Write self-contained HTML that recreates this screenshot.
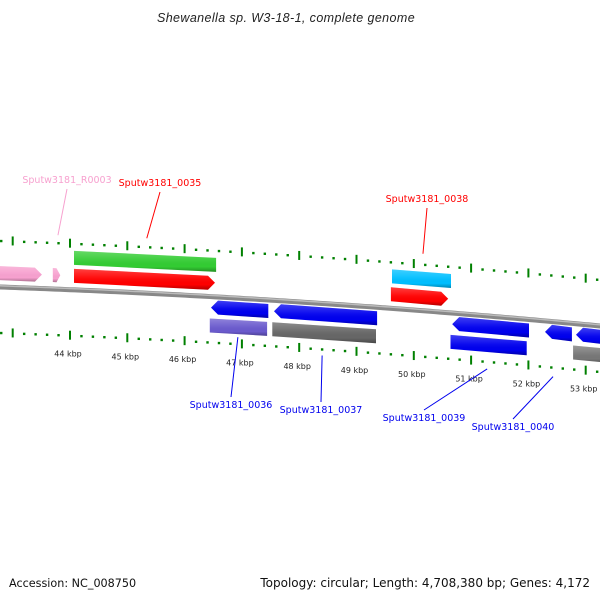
<!DOCTYPE html>
<html><head><meta charset="utf-8"><style>
body{margin:0;background:#fff}
svg{display:block;font-family:"DejaVu Sans","Liberation Sans",sans-serif}
</style></head><body>
<svg id="c" width="600" height="600" viewBox="0 0 600 600">
<defs>
<linearGradient id="sh" x1="0" y1="0" x2="0" y2="1">
<stop offset="0" stop-color="#fff" stop-opacity="0.25"/>
<stop offset="0.45" stop-color="#fff" stop-opacity="0.05"/>
<stop offset="0.75" stop-color="#000" stop-opacity="0"/>
<stop offset="1" stop-color="#000" stop-opacity="0.3"/>
</linearGradient>
</defs>
<text x="286" y="22" text-anchor="middle" font-size="12.5" font-style="italic" fill="#222" style="font-family:'Liberation Sans',sans-serif;letter-spacing:0.4px">Shewanella sp. W3-18-1, complete genome</text>
<text x="9" y="587" font-size="11.2" fill="#111">Accession: NC_008750</text>
<text x="590" y="587" text-anchor="end" font-size="12" fill="#111">Topology: circular; Length: 4,708,380 bp; Genes: 4,172</text>
<g id="g"></g>
</svg>
<script>
const tickKbp=[44,45,46,47,48,49,50,51,52,53];
const geneStarts=[42.6,43.70,44.07,44.07,46.46,46.44,47.56,47.53,49.62,49.60,50.67,50.64,52.29,52.83,52.78];
const geneEnds=[43.51,43.83,46.55,46.53,47.46,47.44,49.36,49.34,50.65,50.60,52.01,51.97,52.76,53.5,53.5];
const geneRows=[-1,-1,-2,-1,1,2,1,2,-2,-1,1,2,1,1,2];
const geneColors=["#f7a1cf","#f7a1cf","#33cc33","#ff0000","#0000ee","#6a5acd","#0000ee","#666666","#00bfff","#ff0000","#0000ee","#0000ee","#0000ee","#0000ee","#777777"];
const geneArrow=[1,1,0,1,-1,0,-1,0,0,1,-1,0,-1,-1,0];
const labelNames=["Sputw3181_R0003","Sputw3181_0035","Sputw3181_0038","Sputw3181_0036","Sputw3181_0037","Sputw3181_0039","Sputw3181_0040"];
const labelColors=["#f7a1cf","#ff0000","#ff0000","#0000ee","#0000ee","#0000ee","#0000ee"];
const labelKbp=[43.79,45.34,50.16,46.93,48.4,51.28,52.43];
const labelAnchorOff=[-54,-55,-57,39,52,53,55];
const labelPos=[[67,183],[160,186],[427,202],[231,408],[321,413],[424,421],[513,430]];

const NS="http://www.w3.org/2000/svg";
const G=document.getElementById('g');
function X(k){return 70+(k-44)*57.3;}
function Y(x){return 287+0.035*x+0.00005*x*x;}
function mk(t,a){const e=document.createElementNS(NS,t);for(const k in a)e.setAttribute(k,a[k]);G.appendChild(e);return e;}
let d="";for(let x=-5;x<=605;x+=5)d+=(x==-5?"M":"L")+x+","+Y(x).toFixed(2);
let bb=mk('path',{d:d,stroke:'#888',"stroke-width":5,fill:'none'});


mk('path',{d:d,stroke:'#bbb',"stroke-width":1.5,fill:'none',transform:'translate(0,-1.2)'});
for(let i=-20;i<=60;i++){
 const k=44+i/5;const x=X(k);if(x<-2||x>602)continue;
 const major=i%5==0;
 for(const s of[-1,1]){
  const y=Y(x)+s*46;
  let t=mk('rect',major?{x:x-1,y:y-5,width:2,height:9,fill:'#008000'}:{x:x-1.2,y:y-1.2,width:2.4,height:2.4,fill:'#008000'});
  
  
 }
}
tickKbp.forEach(k=>{const x=X(k);
 let t=mk('text',{x:x-2,y:Y(x)+67,"font-size":8,"text-anchor":"middle",fill:'#222'});t.textContent=k+" kbp";
 
 
});
const rowOff={"-2":-39,"-1":-21,"1":4,"2":22};
geneStarts.forEach((s,i)=>{
 const x1=Math.max(-10,X(s)),x2=X(geneEnds[i]);const o=rowOff[geneRows[i]],h=14;
 const y1=Y(x1)+o,y2=Y(x2)+o,a=geneArrow[i],aw=Math.min(7,(x2-x1)/2);
 let pts;
 if(a==1)pts=[[x1,y1],[x2-aw,y2],[x2,y2+h/2],[x2-aw,y2+h],[x1,y1+h]];
 else if(a==-1)pts=[[x1+aw,y1],[x2,y2],[x2,y2+h],[x1+aw,y1+h],[x1,y1+h/2]];
 else pts=[[x1,y1],[x2,y2],[x2,y2+h],[x1,y1+h]];
 const p=pts.map(q=>q[0].toFixed(1)+","+q[1].toFixed(1)).join(" ");
 let e=mk('polygon',{points:p,fill:geneColors[i]});
 
 
 mk('polygon',{points:p,fill:'url(#sh)'});
});
labelNames.forEach((n,i)=>{
 const [lx,ly]=labelPos[i];const kx=X(labelKbp[i]);const upper=ly<300;
 const gy=Y(kx)+labelAnchorOff[i];
 let l=mk('line',{x1:kx,y1:gy,x2:lx,y2:upper?ly+6:ly-11,stroke:labelColors[i],"stroke-width":1});
 
 
 let t=mk('text',{x:lx,y:ly,"font-size":9.5,"text-anchor":"middle",fill:labelColors[i]});t.textContent=n;
 
 
});
</script>
</body></html>
